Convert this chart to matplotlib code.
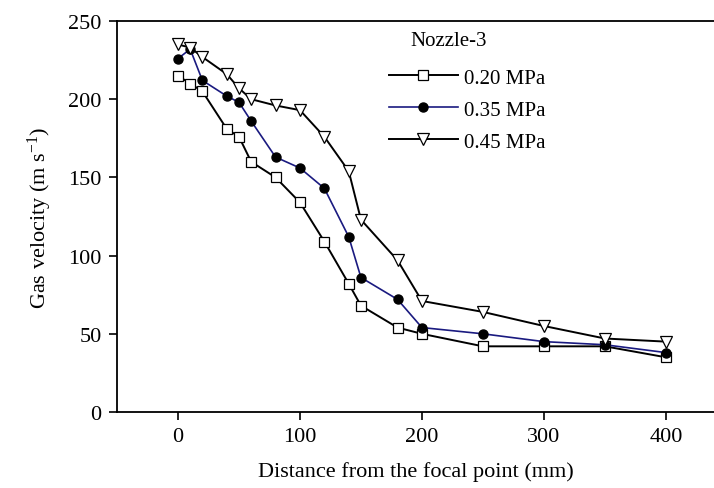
import matplotlib
matplotlib.use("Agg")
import matplotlib.pyplot as plt

# data
dist_020 = [0, 10, 20, 40, 50, 60, 80, 100, 120, 140, 150, 180, 200, 250, 300, 350, 400]
vel_020 = [215, 210, 205, 181, 176, 160, 150, 134, 109, 82, 68, 54, 50, 42, 42, 42, 35]

dist_035 = [0, 10, 20, 40, 50, 60, 80, 100, 120, 140, 150, 180, 200, 250, 300, 350, 400]
vel_035 = [226, 232, 212, 202, 198, 186, 163, 156, 143, 112, 86, 72, 54, 50, 45, 43, 38]

dist_045 = [0, 10, 20, 40, 50, 60, 80, 100, 120, 140, 150, 180, 200, 250, 300, 350, 400]
vel_045 = [235, 233, 227, 216, 207, 200, 196, 193, 176, 154, 123, 97, 71, 64, 55, 47, 45]

labels = ["0.20 MPa", "0.35 MPa", "0.45 MPa"]
x_ticks = [0, 100, 200, 300, 400]
y_ticks = [0, 50, 100, 150, 200, 250]

plt.rcParams['font.family'] = ['Liberation Serif', 'DejaVu Serif']
plt.rcParams['mathtext.fontset'] = 'custom'
plt.rcParams['mathtext.rm'] = 'Liberation Serif'
plt.rcParams['mathtext.it'] = 'Liberation Serif:italic'

fig = plt.figure(figsize=(7.14, 4.89), dpi=100)
ax = fig.add_axes([0.1639, 0.1554, 0.8361, 0.7996])

ax.plot(dist_020, vel_020, color='black', lw=1.4, marker='s', ms=6.5,
        mfc='white', mec='black', mew=0.9, label=labels[0])
ax.plot(dist_035, vel_035, color='#1a1a80', lw=1.2, marker='o', ms=6.5,
        mfc='black', mec='black', label=labels[1])
ax.plot(dist_045, vel_045, color='black', lw=1.4, marker='v', ms=9,
        mfc='white', mec='black', mew=0.9, label=labels[2])

ax.set_xlim(-50, 439.5)
ax.set_ylim(0, 250)
ax.set_xticks(x_ticks)
ax.set_yticks(y_ticks)
ax.tick_params(direction='out', length=6, width=1.2, labelsize=16, pad=5)

for s in ['left', 'bottom', 'top']:
    ax.spines[s].set_linewidth(1.3)
ax.spines['right'].set_visible(False)

ax.set_xlabel("Distance from the focal point (mm)", fontsize=16, labelpad=11)
ax.set_ylabel("Gas velocity (m s$^{-1}$)", fontsize=16, labelpad=10)

ax.text(410 / 714, 1 - 42 / 489, "Nozzle-3", transform=fig.transFigure,
        fontsize=15, va='center', ha='left')
ax.legend(loc='upper left', bbox_to_anchor=(389 / 714, 1 - 69 / 489),
          bbox_transform=fig.transFigure, frameon=False, fontsize=15,
          handlelength=3.3, handletextpad=0.3, labelspacing=0.6,
          borderaxespad=0, borderpad=0)

fig.savefig("out.png", dpi=100)
